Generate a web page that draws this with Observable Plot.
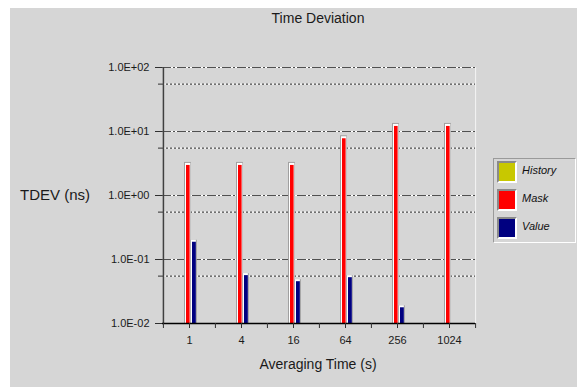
<!DOCTYPE html>
<html>
<head>
<meta charset="utf-8">
<script src="https://cdn.jsdelivr.net/npm/d3@7"></script>
<script src="https://cdn.jsdelivr.net/npm/@observablehq/plot@0.6"></script>
<style>
  html, body { margin: 0; padding: 0; background: #ffffff; }
  #wrap { position: relative; width: 577px; height: 387px; overflow: hidden; font-family: "Liberation Sans", Arial, sans-serif; }
  #panel { position: absolute; left: 10px; top: 8px; width: 567px; height: 379px; background: #d6d6d6; }
  #chart { position: absolute; left: 0; top: 0; }
  .lbl { position: absolute; color: #1a1a1a; font-size: 14px; white-space: nowrap; }
  #legend { position: absolute; left: 493px; top: 158px; width: 83px; height: 85px; border: 1px solid #9a9a9a; border-right-color: #ffffff; border-bottom-color: #ffffff; box-sizing: border-box; }
  .item { position: absolute; left: 3px; height: 22px; }
  .sw { position: absolute; left: 0; top: 0; width: 20px; height: 22px; box-sizing: border-box; border: 2px solid #8a8a8a; border-right-color: #ffffff; border-bottom-color: #ffffff; }
  .it { position: absolute; left: 25px; top: 3px; font-size: 11px; font-style: italic; color: #111; }
</style>
</head>
<body>
<div id="wrap">
  <div id="panel"></div>
  <div id="chart"></div>
  <div class="lbl" id="title" style="top:10px; left:318px; transform:translateX(-50%);">Time Deviation</div>
  <div class="lbl" id="ylabel" style="top:186px; left:20px; font-size:15px;">TDEV (ns)</div>
  <div class="lbl" id="xlabel" style="top:356px; left:318px; transform:translateX(-50%);">Averaging Time (s)</div>
  <div id="legend"></div>
</div>
<script>
// ---- data ----
const categories = ["1", "4", "16", "64", "256", "1024"];
const historyValues = [null, null, null, null, null, null];
const maskValues = [2.95, 2.95, 2.95, 7.7, 12.0, 12.0];
const valueValues = [0.186, 0.056, 0.045, 0.052, 0.0176, null];
const seriesNames = ["History", "Mask", "Value"];
const seriesColors = ["#c8c800", "#ff0000", "#000080"];
const yMajorTicks = [0.01, 0.1, 1, 10, 100];
const yTickLabels = ["1.0E-02", "1.0E-01", "1.0E+00", "1.0E+01", "1.0E+02"];
const yMinorTicks = [0.055, 0.55, 5.5, 55];

const W = 577, H = 387;
const plotLeft = 162, plotRight = 475, plotTop = 67, plotBottom = 323;
const bw = (plotRight - plotLeft) / categories.length;

const maskData = categories.map((c, i) => ({c, v: maskValues[i]})).filter(d => d.v != null);
const valueData = categories.map((c, i) => ({c, v: valueValues[i]})).filter(d => d.v != null);
const labelOf = new Map(yMajorTicks.map((t, i) => [t, yTickLabels[i]]));

function bars(data, x0, x1, topOff, fill) {
  // x0/x1: pixel offsets from band start
  return Plot.rectY(data, {
    x: "c", y1: 0.01, y2: "v", fill,
    insetLeft: x0, insetRight: bw - x1, insetTop: -topOff
  });
}

const chart = Plot.plot({
  width: W, height: H,
  marginLeft: plotLeft, marginRight: W - plotRight, marginTop: plotTop, marginBottom: H - plotBottom,
  style: {background: "transparent", fontFamily: "Liberation Sans, Arial, sans-serif", fontSize: "11px", color: "#1a1a1a"},
  x: {type: "band", domain: categories, padding: 0, axis: null},
  y: {type: "log", domain: [0.01, 100], axis: null},
  marks: [
    // grid
    Plot.ruleY(yMajorTicks.slice(1), {stroke: "#ffffff", strokeWidth: 1}),
    Plot.ruleY(yMajorTicks.slice(1), {stroke: "#505050", strokeWidth: 1, strokeDasharray: "9,2,2,2"}),
    Plot.ruleY(yMinorTicks, {stroke: "#ffffff", strokeWidth: 1}),
    Plot.ruleY(yMinorTicks, {stroke: "#202020", strokeWidth: 1, strokeDasharray: "2,2"}),
    // right border
    Plot.ruleX([categories[categories.length - 1]], {dx: bw / 2, stroke: "#f4f4f4"}),
    // mask bars (bevelled)
    bars(maskData, 21, 28, 3, "#a0a0a0"),
    bars(maskData, 22, 27.5, 2, "#ffffff"),
    bars(maskData, 23, 26.8, 0, seriesColors[1]),
    // value bars (bevelled)
    bars(valueData, 27.5, 34, 2, "#a0a0a0"),
    bars(valueData, 28, 33, 2, "#ffffff"),
    bars(valueData, 29, 33, 0, seriesColors[2]),
    // axes lines
    Plot.ruleX([categories[0]], {dx: -bw / 2, stroke: "#404040", strokeWidth: 1.5}),
    Plot.ruleY([0.01], {stroke: "#000000", strokeWidth: 1.5}),
    // y ticks & labels
    Plot.axisY({ticks: yMajorTicks, tickSize: 7, tickPadding: 6, tickFormat: d => labelOf.get(d), stroke: "#303030", fill: "#1a1a1a", label: null}),
    Plot.axisY({ticks: yMinorTicks, tickSize: 4, tickFormat: () => "", stroke: "#303030", label: null}),
    // x ticks & labels
    Plot.axisX({ticks: categories, tickSize: 5, tickPadding: 8, stroke: "#303030", fill: "#1a1a1a", label: null}),
    Plot.axisX({ticks: categories, tickSize: 5, tickFormat: () => "", dx: -bw / 2, stroke: "#303030", label: null}),
    Plot.axisX({ticks: [categories[categories.length - 1]], tickSize: 5, tickFormat: () => "", dx: bw / 2, stroke: "#303030", label: null})
  ]
});
document.getElementById("chart").appendChild(chart);

// legend
const legend = document.getElementById("legend");
seriesNames.forEach((name, i) => {
  const item = document.createElement("div");
  item.className = "item";
  item.style.top = (2 + i * 28) + "px";
  const sw = document.createElement("div");
  sw.className = "sw";
  sw.style.background = seriesColors[i];
  const t = document.createElement("div");
  t.className = "it";
  t.textContent = name;
  item.appendChild(sw); item.appendChild(t);
  legend.appendChild(item);
});
</script>
</body>
</html>
